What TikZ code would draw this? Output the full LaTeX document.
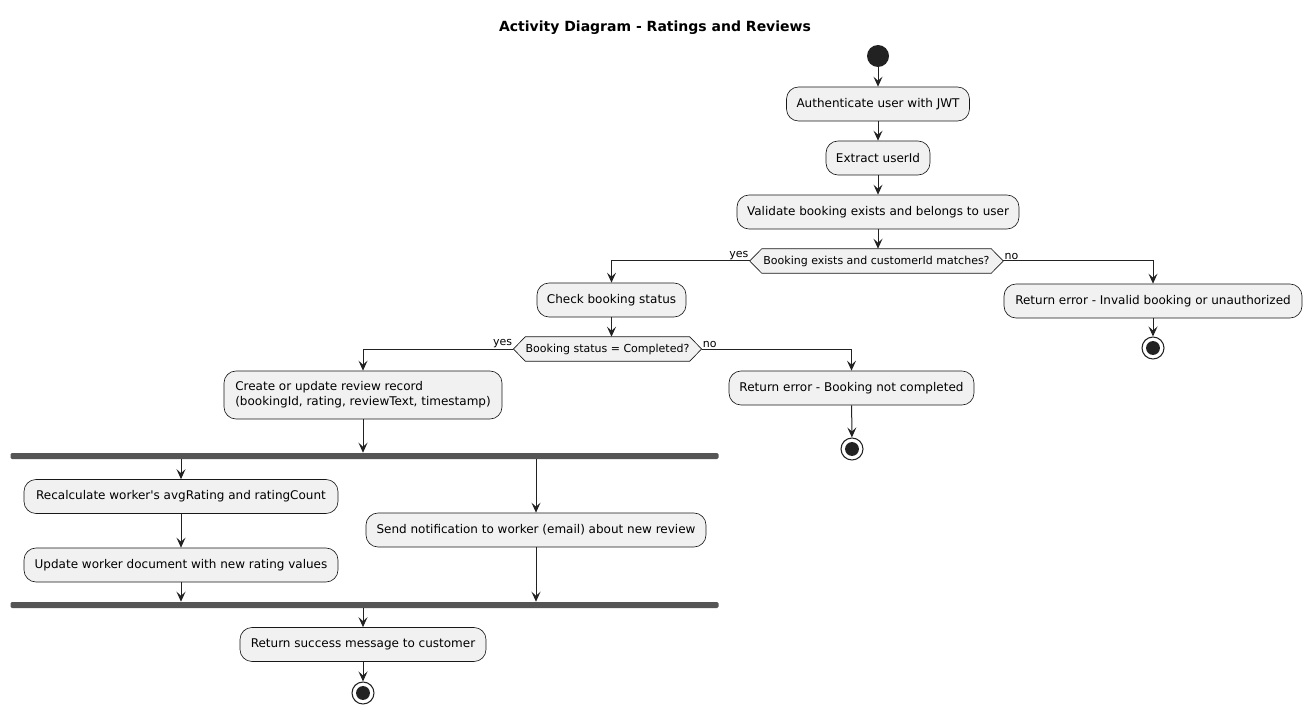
\documentclass[tikz,border=0pt]{standalone}
\usepackage{fontspec}
\setmainfont{DejaVu Sans}
\usetikzlibrary{arrows.meta,backgrounds}
\newdimen\pxu \pxu=0.75pt
\definecolor{boxfill}{HTML}{F1F1F1}
\definecolor{boxline}{HTML}{181818}
\definecolor{barcol}{HTML}{555555}
\definecolor{dotcol}{HTML}{222222}
\begin{document}
\begin{tikzpicture}[x=0.75pt,y=-0.75pt,
  act/.style={draw=boxline, fill=boxfill, rounded corners=9pt, line width=0.5pt,
    minimum height=25.5pt, inner sep=0pt, font=\fontsize{9}{11.5}\selectfont},
  dectext/.style={inner sep=0pt, minimum height=18pt, font=\fontsize{8.25}{10}\selectfont},
  hexa/.style={draw=boxline, fill=boxfill, line width=0.5pt},
  lbl/.style={inner sep=0pt, font=\fontsize{8.25}{10}\selectfont},
  bar/.style={fill=barcol, rounded corners=1.1pt, minimum height=4.5pt, inner sep=0pt},
  startnode/.style={circle, fill=dotcol, minimum size=16.5pt, inner sep=0pt},
  endnode/.style={circle, draw=dotcol, fill=white, line width=0.8pt, minimum size=16.5pt, inner sep=0pt,
    path picture={\fill[dotcol] (path picture bounding box.center) circle (5.2pt);}},
  arr/.style={draw=dotcol, line width=0.75pt, -{Stealth[length=7.5pt, width=6.75pt, inset=3pt]}}
]
\useasboundingbox (0,0) rectangle (1311,713);

\node[font=\bfseries\fontsize{10.5}{12}\selectfont] (title) at (655,28) {Activity Diagram - Ratings and Reviews};

\node[startnode] (start) at (878,56) {};
\node[act, minimum width=183\pxu] (auth) at (878,104) {Authenticate user with JWT};
\node[act, minimum width=104\pxu] (extract) at (878,158) {Extract userId};
\node[act, minimum width=282\pxu] (validate) at (878,212) {Validate booking exists and belongs to user};

\node[dectext, minimum width=229\pxu] (d1) at (876.5,261) {Booking exists and customerId matches?};
\coordinate (d1w) at ([xshift=-9pt]d1.west);
\coordinate (d1e) at ([xshift=9pt]d1.east);
\begin{scope}[on background layer]
\draw[hexa] (d1.north west) -- (d1.north east) -- (d1e) -- (d1.south east) -- (d1.south west) -- (d1w) -- cycle;
\end{scope}

\node[act, minimum width=149\pxu] (check) at (611.5,300) {Check booking status};
\node[act, minimum width=298\pxu] (err1) at (1153,301) {Return error - Invalid booking or unauthorized};
\node[endnode] (end1) at (1153,348) {};

\node[dectext, minimum width=155\pxu] (d2) at (607.5,349) {Booking status = Completed?};
\coordinate (d2w) at ([xshift=-9pt]d2.west);
\coordinate (d2e) at ([xshift=9pt]d2.east);
\begin{scope}[on background layer]
\draw[hexa] (d2.north west) -- (d2.north east) -- (d2e) -- (d2.south east) -- (d2.south west) -- (d2w) -- cycle;
\end{scope}

\node[act, minimum width=278\pxu, minimum height=36pt, align=left] (create) at (363,395)
  {Create or update review record\\(bookingId, rating, reviewText, timestamp)};
\node[act, minimum width=245\pxu] (err2) at (851.5,388) {Return error - Booking not completed};
\node[endnode] (end2) at (852,449) {};

\node[bar, minimum width=708\pxu] (fork) at (364.5,456) {};
\node[act, minimum width=314\pxu] (recalc) at (181,496.5) {Recalculate worker\textquotesingle s avgRating and ratingCount};
\node[act, minimum width=314\pxu] (update) at (181,565) {Update worker document with new rating values};
\node[act, minimum width=340\pxu] (send) at (536,530) {Send notification to worker (email) about new review};
\node[bar, minimum width=708\pxu] (join) at (364.5,605) {};
\node[act, minimum width=246\pxu] (success) at (363,644.5) {Return success message to customer};
\node[endnode] (end3) at (363,693) {};

% connectors
\draw[arr] (start) -- (auth);
\draw[arr] (auth) -- (extract);
\draw[arr] (extract) -- (validate);
\draw[arr] (validate.south) -- (validate.south |- d1.north);
\draw[arr] (d1w) -| (check.north);
\draw[arr] (d1e) -| (err1.north);
\draw[arr] (err1) -- (end1);
\node[lbl, anchor=south east] (yes1) at ([xshift=-0.75pt,yshift=0.75pt]d1w) {yes};
\node[lbl, anchor=south west] (no1) at ([xshift=0.75pt,yshift=0.75pt]d1e) {no};

\draw[arr] (check.south) -- (check.south |- d2.north);
\draw[arr] (d2w) -| (create.north);
\draw[arr] (d2e) -| (err2.north);
\draw[arr] (err2) -- (end2);
\node[lbl, anchor=south east] (yes2) at ([xshift=-0.75pt,yshift=0.75pt]d2w) {yes};
\node[lbl, anchor=south west] (no2) at ([xshift=0.75pt,yshift=0.75pt]d2e) {no};

\draw[arr] (create.south) -- (create.south |- fork.north);
\draw[arr] (fork.south -| recalc.north) -- (recalc.north);
\draw[arr] (fork.south -| send.north) -- (send.north);
\draw[arr] (recalc) -- (update);
\draw[arr] (update.south) -- (update.south |- join.north);
\draw[arr] (send.south) -- (send.south |- join.north);
\draw[arr] (join.south -| success.north) -- (success.north);
\draw[arr] (success) -- (end3);
\end{tikzpicture}
\end{document}
